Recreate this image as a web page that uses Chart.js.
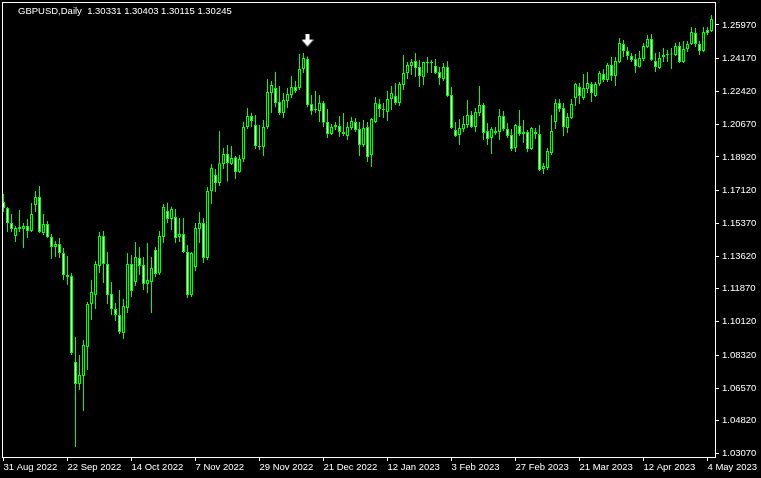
<!DOCTYPE html>
<html>
<head>
<meta charset="utf-8">
<script src="https://cdn.jsdelivr.net/npm/chart.js@4.4.1/dist/chart.umd.min.js"></script>
<style>
  html, body { margin: 0; padding: 0; background: #000; }
  #wrap { position: relative; width: 761px; height: 478px; }
  #info {
    position: absolute; left: 18px; top: 5px;
    font: 9.5px "Liberation Sans", Arial, sans-serif;
    color: #fff; white-space: pre;
  }
</style>
</head>
<body>
<div id="wrap">
  <canvas id="chart" width="761" height="478"></canvas>
  <div id="info">GBPUSD,Daily  1.30331 1.30403 1.30115 1.30245</div>
</div>
<script>
// GBPUSD daily, 31 Aug 2022 .. 5 May 2023 (one bar per trading day)
const opens = [
    1.1651, 1.1619, 1.1539, 1.1469, 1.1518, 1.1507, 1.1523, 1.1496, 1.1635, 1.1678,
    1.1485, 1.1534, 1.1464, 1.1411, 1.1427, 1.1379, 1.1261, 1.1256, 1.0796, 1.0679,
    1.0721, 1.0876, 1.1106, 1.1154, 1.1309, 1.1469, 1.1320, 1.1159, 1.1079, 1.1047,
    1.0951, 1.1085, 1.1320, 1.1224, 1.1352, 1.1314, 1.1213, 1.1224, 1.1395, 1.1270,
    1.1464, 1.1603, 1.1560, 1.1571, 1.1464, 1.1480, 1.1384, 1.1154, 1.1304, 1.1507,
    1.1539, 1.1352, 1.1710, 1.1795, 1.1753, 1.1854, 1.1908, 1.1854, 1.1890, 1.1811,
    1.1881, 1.2052, 1.2111, 1.2063, 1.1945, 1.1945, 1.2052, 1.2234, 1.2260, 1.2185,
    1.2127, 1.2191, 1.2223, 1.2266, 1.2260, 1.2362, 1.2415, 1.2175, 1.2143, 1.2137,
    1.2180, 1.2079, 1.2014, 1.2052, 1.2057, 1.2025, 1.2004, 1.2047, 1.2079, 1.2041,
    1.1956, 1.2052, 1.1902, 1.2079, 1.2175, 1.2143, 1.2132, 1.2201, 1.2218, 1.2180,
    1.2276, 1.2340, 1.2378, 1.2405, 1.2373, 1.2319, 1.2399, 1.2394, 1.2378, 1.2346,
    1.2308, 1.2373, 1.2223, 1.2036, 1.2009, 1.2041, 1.2063, 1.2116, 1.2052, 1.2127,
    1.2169, 1.2031, 1.1993, 1.2031, 1.2025, 1.2111, 1.2041, 1.2009, 1.1940, 1.2057,
    1.2014, 1.2025, 1.1934, 1.2025, 1.2014, 1.1827, 1.1833, 1.1913, 1.2079, 1.2180,
    1.2153, 1.2047, 1.2100, 1.2207, 1.2266, 1.2207, 1.2255, 1.2282, 1.2218, 1.2282,
    1.2335, 1.2303, 1.2383, 1.2325, 1.2399, 1.2495, 1.2458, 1.2431, 1.2415, 1.2373,
    1.2415, 1.2479, 1.2522, 1.2405, 1.2367, 1.2426, 1.2437, 1.2442, 1.2437, 1.2485,
    1.2399, 1.2469, 1.2495, 1.2554, 1.2495, 1.2458, 1.2570, 1.2565
];
const highs = [
    1.1694, 1.1624, 1.1587, 1.1523, 1.1608, 1.1539, 1.1560, 1.1646, 1.1710, 1.1737,
    1.1587, 1.1550, 1.1480, 1.1443, 1.1459, 1.1405, 1.1363, 1.1272, 1.0930, 1.0834,
    1.0914, 1.1117, 1.1234, 1.1336, 1.1491, 1.1496, 1.1384, 1.1224, 1.1111, 1.1181,
    1.1133, 1.1379, 1.1368, 1.1437, 1.1411, 1.1357, 1.1432, 1.1357, 1.1411, 1.1496,
    1.1640, 1.1647, 1.1626, 1.1614, 1.1566, 1.1566, 1.1421, 1.1384, 1.1539, 1.1598,
    1.1566, 1.1731, 1.1854, 1.1827, 1.2030, 1.1940, 1.1956, 1.1950, 1.1897, 1.1902,
    1.2080, 1.2153, 1.2128, 1.2116, 1.2063, 1.2089, 1.2309, 1.2298, 1.2346, 1.2271,
    1.2234, 1.2260, 1.2324, 1.2298, 1.2442, 1.2447, 1.2428, 1.2223, 1.2244, 1.2223,
    1.2191, 1.2148, 1.2068, 1.2079, 1.2111, 1.2127, 1.2079, 1.2105, 1.2100, 1.2079,
    1.2089, 1.2079, 1.2100, 1.2212, 1.2201, 1.2180, 1.2244, 1.2271, 1.2287, 1.2292,
    1.2437, 1.2399, 1.2415, 1.2447, 1.2410, 1.2401, 1.2426, 1.2410, 1.2415, 1.2373,
    1.2394, 1.2405, 1.2266, 1.2079, 1.2095, 1.2111, 1.2196, 1.2137, 1.2153, 1.2271,
    1.2180, 1.2073, 1.2052, 1.2052, 1.2148, 1.2137, 1.2073, 1.2041, 1.2068, 1.2143,
    1.2089, 1.2036, 1.2052, 1.2047, 1.2063, 1.1860, 1.1940, 1.2116, 1.2201, 1.2201,
    1.2180, 1.2127, 1.2201, 1.2287, 1.2287, 1.2335, 1.2346, 1.2292, 1.2292, 1.2351,
    1.2362, 1.2394, 1.2426, 1.2426, 1.2527, 1.2517, 1.2479, 1.2447, 1.2442, 1.2458,
    1.2501, 1.2543, 1.2549, 1.2447, 1.2453, 1.2474, 1.2463, 1.2474, 1.2501, 1.2506,
    1.2511, 1.2511, 1.2586, 1.2581, 1.2511, 1.2586, 1.2586, 1.2650
];
const lows = [
    1.1598, 1.1491, 1.1491, 1.1437, 1.1491, 1.1405, 1.1459, 1.1491, 1.1598, 1.1485,
    1.1475, 1.1459, 1.1347, 1.1357, 1.1352, 1.1234, 1.1208, 1.0834, 1.0342, 1.0646,
    1.0534, 1.0753, 1.1020, 1.1079, 1.1272, 1.1218, 1.1106, 1.1047, 1.1015, 1.0946,
    1.0919, 1.1058, 1.1143, 1.1202, 1.1261, 1.1181, 1.1165, 1.1058, 1.1250, 1.1261,
    1.1432, 1.1539, 1.1502, 1.1432, 1.1437, 1.1379, 1.1138, 1.1143, 1.1282, 1.1432,
    1.1325, 1.1341, 1.1640, 1.1705, 1.1737, 1.1827, 1.1760, 1.1849, 1.1774, 1.1806,
    1.1865, 1.2041, 1.2052, 1.1934, 1.1929, 1.1897, 1.2041, 1.2127, 1.2158, 1.2116,
    1.2100, 1.2153, 1.2207, 1.2234, 1.2250, 1.2340, 1.2158, 1.2116, 1.2127, 1.2079,
    1.2052, 1.1993, 1.2009, 1.2036, 1.1999, 1.2004, 1.1982, 1.2036, 1.2025, 1.1897,
    1.1945, 1.1865, 1.1838, 1.2073, 1.2105, 1.2100, 1.2084, 1.2143, 1.2169, 1.2164,
    1.2250, 1.2308, 1.2330, 1.2319, 1.2266, 1.2276, 1.2340, 1.2340, 1.2335, 1.2276,
    1.2298, 1.2212, 1.2041, 1.1999, 1.1956, 1.2025, 1.2047, 1.2047, 1.2025, 1.2111,
    1.1982, 1.1956, 1.1908, 1.2009, 1.1982, 1.2031, 1.1993, 1.1924, 1.1918, 1.2004,
    1.1966, 1.1918, 1.1929, 1.1988, 1.1817, 1.1801, 1.1822, 1.1902, 1.2041, 1.2132,
    1.2004, 1.2020, 1.2095, 1.2164, 1.2175, 1.2196, 1.2234, 1.2186, 1.2212, 1.2271,
    1.2292, 1.2292, 1.2298, 1.2271, 1.2394, 1.2426, 1.2410, 1.2399, 1.2340, 1.2370,
    1.2405, 1.2474, 1.2405, 1.2346, 1.2362, 1.2399, 1.2399, 1.2362, 1.2431, 1.2394,
    1.2394, 1.2453, 1.2490, 1.2479, 1.2437, 1.2453, 1.2543, 1.2559
];
const closes = [
    1.1619, 1.1539, 1.1507, 1.1512, 1.1507, 1.1523, 1.1496, 1.1587, 1.1678, 1.1491,
    1.1534, 1.1464, 1.1411, 1.1427, 1.1379, 1.1261, 1.1250, 1.0844, 1.0679, 1.0727,
    1.0887, 1.1106, 1.1170, 1.1320, 1.1469, 1.1320, 1.1154, 1.1079, 1.1047, 1.0956,
    1.1095, 1.1320, 1.1176, 1.1357, 1.1309, 1.1213, 1.1234, 1.1299, 1.1266, 1.1469,
    1.1624, 1.1560, 1.1614, 1.1459, 1.1480, 1.1384, 1.1154, 1.1379, 1.1512, 1.1539,
    1.1352, 1.1710, 1.1833, 1.1753, 1.1858, 1.1908, 1.1860, 1.1886, 1.1811, 1.1881,
    1.2052, 1.2111, 1.2084, 1.1950, 1.1947, 1.2052, 1.2239, 1.2276, 1.2180, 1.2127,
    1.2196, 1.2228, 1.2266, 1.2244, 1.2362, 1.2421, 1.2169, 1.2137, 1.2148, 1.2180,
    1.2074, 1.2014, 1.2052, 1.2063, 1.2025, 1.2014, 1.2052, 1.2084, 1.2036, 1.1956,
    1.2047, 1.1892, 1.2095, 1.2180, 1.2148, 1.2148, 1.2201, 1.2234, 1.2180, 1.2282,
    1.2340, 1.2383, 1.2399, 1.2367, 1.2325, 1.2399, 1.2394, 1.2399, 1.2340, 1.2314,
    1.2373, 1.2218, 1.2047, 1.2004, 1.2047, 1.2068, 1.2116, 1.2052, 1.2132, 1.2169,
    1.2020, 1.1988, 1.2041, 1.2020, 1.2111, 1.2041, 1.2004, 1.1934, 1.2063, 1.2014,
    1.2025, 1.1934, 1.2047, 1.2014, 1.1822, 1.1844, 1.1924, 1.2031, 1.2180, 1.2148,
    1.2052, 1.2105, 1.2175, 1.2282, 1.2218, 1.2260, 1.2287, 1.2234, 1.2282, 1.2340,
    1.2303, 1.2383, 1.2325, 1.2405, 1.2501, 1.2458, 1.2431, 1.2410, 1.2378, 1.2421,
    1.2485, 1.2522, 1.2410, 1.2373, 1.2421, 1.2437, 1.2442, 1.2440, 1.2485, 1.2399,
    1.2469, 1.2495, 1.2560, 1.2495, 1.2458, 1.2560, 1.2554, 1.2629
];

const dateTickIndex = [0, 16, 32, 48, 64, 80, 96, 112, 128, 144, 160, 176];
const dateTickLabels = [
    "31 Aug 2022", "22 Sep 2022", "14 Oct 2022", "7 Nov 2022", "29 Nov 2022", "21 Dec 2022",
    "12 Jan 2023", "3 Feb 2023", "27 Feb 2023", "21 Mar 2023", "12 Apr 2023", "4 May 2023"
];
const priceTicks = [
    1.25970, 1.24170, 1.22420, 1.20670, 1.18920, 1.17120, 1.15370,
    1.13620, 1.11870, 1.10120, 1.08320, 1.06570, 1.04820, 1.03070
];

// down arrow object placed above the December high
const arrowIndex = 76;
const arrowPrice = 1.2514;

const LIME = "#00ff00";
const font = { family: "'Liberation Sans', Arial, sans-serif", size: 9.5 };

function makeArrow() {
    const c = document.createElement("canvas");
    c.width = 12;
    c.height = 14;
    const g = c.getContext("2d");
    g.fillStyle = "#fff";
    g.fillRect(4, 0, 4, 7);
    g.beginPath();
    g.moveTo(0, 6);
    g.lineTo(12, 6);
    g.lineTo(6, 13);
    g.closePath();
    g.fill();
    return c;
}

const frame = {
    id: "frame",
    afterDraw(chart) {
        const a = chart.chartArea;
        const ctx = chart.ctx;
        ctx.save();
        ctx.strokeStyle = "#fff";
        ctx.lineWidth = 1;
        ctx.strokeRect(a.left + 0.5, a.top + 0.5, a.right - a.left, a.bottom - a.top);
        ctx.restore();
    }
};

new Chart(document.getElementById("chart"), {
    type: "bar",
    data: {
        datasets: [
            {
                label: "wick",
                order: 2,
                data: lows.map((l, i) => ({ x: i, y: [l, highs[i]] })),
                backgroundColor: LIME,
                borderWidth: 0,
                barThickness: 1,
                inflateAmount: 0,
                grouped: false
            },
            {
                label: "body",
                order: 1,
                data: opens.map((o, i) => ({ x: i, y: [o, closes[i]] })),
                backgroundColor: opens.map((o, i) => closes[i] < o ? "#ffffff" : "#000000"),
                borderColor: LIME,
                borderWidth: 1,
                borderSkipped: false,
                barThickness: 3,
                minBarLength: 1,
                inflateAmount: 0,
                grouped: false
            },
            {
                type: "line",
                label: "arrow",
                order: 0,
                data: [{ x: arrowIndex, y: arrowPrice }],
                showLine: false,
                pointStyle: makeArrow(),
                pointRadius: 5
            }
        ]
    },
    options: {
        responsive: false,
        animation: false,
        devicePixelRatio: 1,
        layout: { autoPadding: false, padding: { left: 2, top: 2, right: 0, bottom: 0 } },
        plugins: {
            legend: { display: false },
            tooltip: { enabled: false }
        },
        scales: {
            x: {
                type: "linear",
                min: -0.375,
                max: 177.875,
                offset: false,
                afterBuildTicks: s => { s.ticks = dateTickIndex.map(v => ({ value: v })); },
                afterFit: s => { s.height = 21; s.paddingLeft = 0; s.paddingRight = 0; },
                grid: { drawOnChartArea: false, offset: false, color: "#fff", tickLength: 4 },
                border: { display: false },
                ticks: {
                    color: "#fff",
                    font: font,
                    align: "start",
                    padding: 1,
                    autoSkip: false,
                    maxRotation: 0,
                    callback: (v, i) => dateTickLabels[i]
                }
            },
            y: {
                position: "right",
                min: 1.02884,
                max: 1.27199,
                afterBuildTicks: s => { s.ticks = priceTicks.map(v => ({ value: v })); },
                afterFit: s => { s.width = 46; s.paddingTop = 0; s.paddingBottom = 0; },
                grid: { drawOnChartArea: false, color: "#fff", tickLength: 4 },
                border: { display: false },
                ticks: {
                    color: "#fff",
                    font: font,
                    padding: 3,
                    autoSkip: false,
                    callback: v => v.toFixed(5)
                }
            }
        }
    },
    plugins: [frame]
});
</script>
</body>
</html>
